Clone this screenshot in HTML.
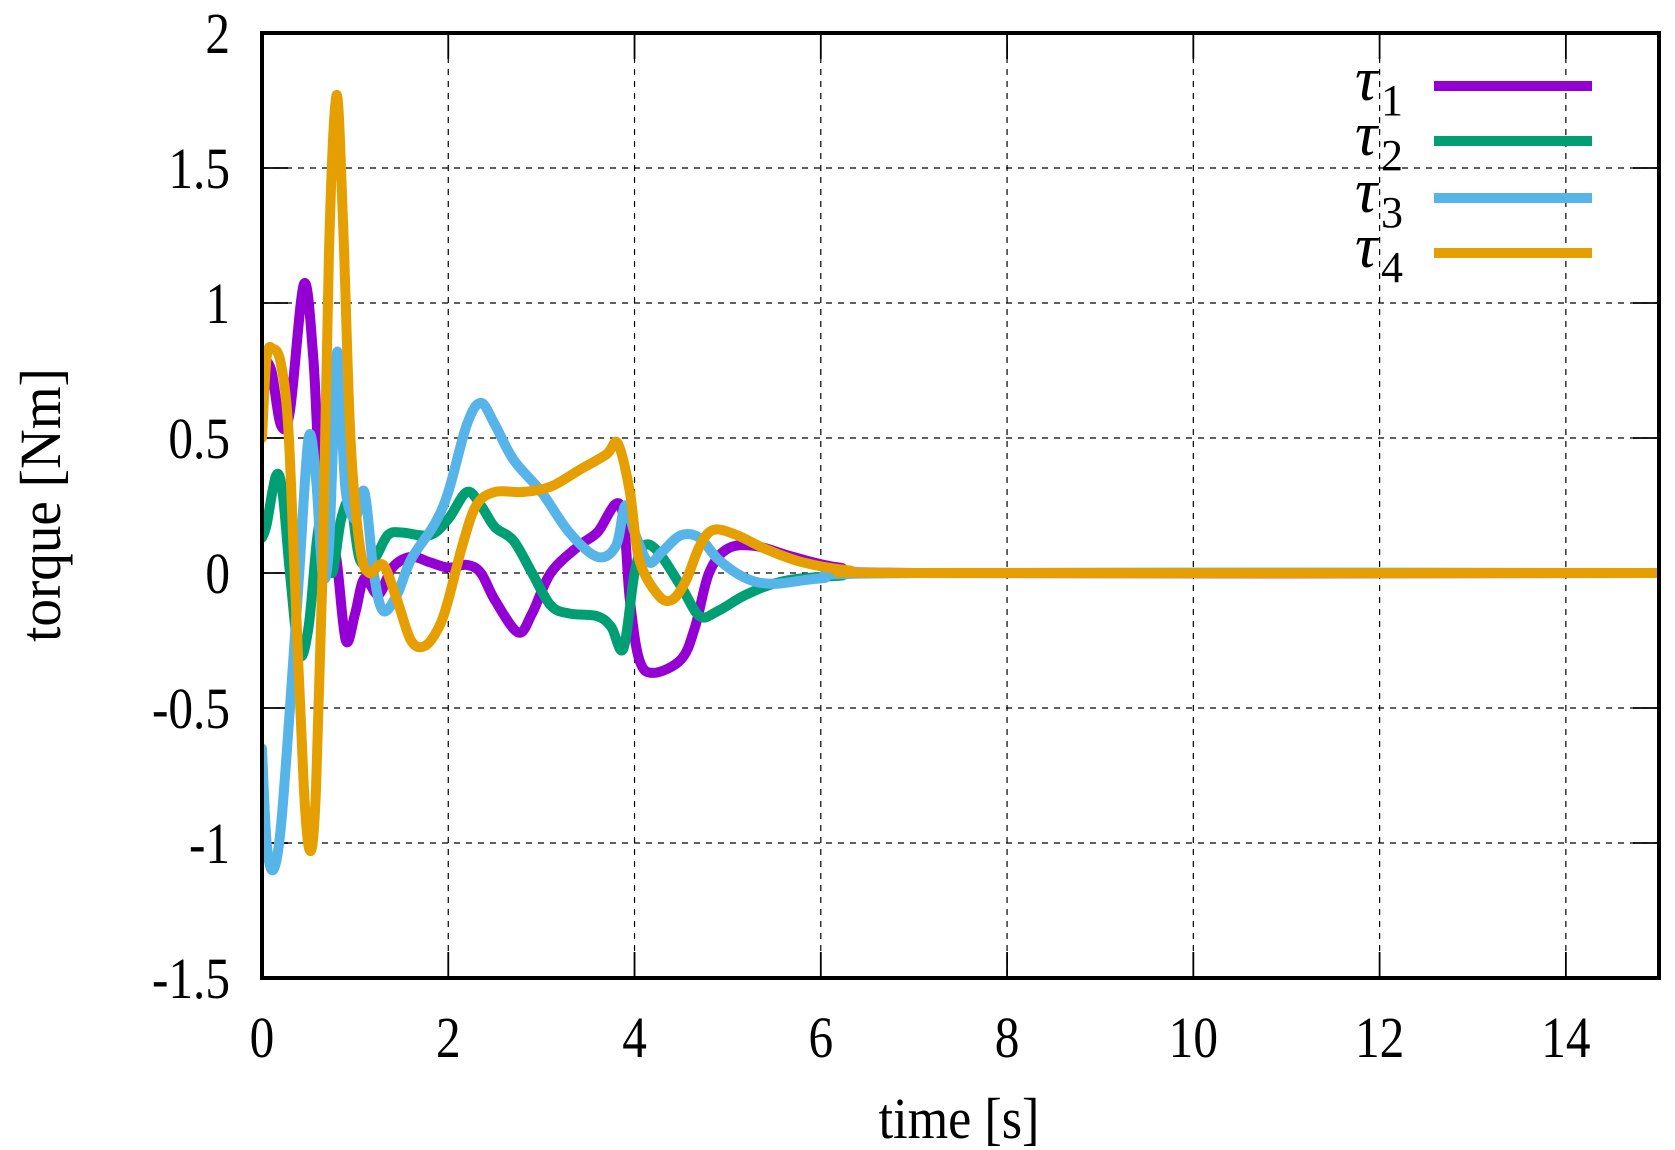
<!DOCTYPE html>
<html><head><meta charset="utf-8"><style>
html,body{margin:0;padding:0;background:#fff}
svg{display:block}
text{font-family:"Liberation Serif",serif;fill:#000}
</style></head><body>
<svg id="s" width="1675" height="1150" viewBox="0 0 1675 1150" xmlns="http://www.w3.org/2000/svg">
<defs><clipPath id="c"><rect x="262" y="33" width="1397" height="945"/></clipPath></defs>
<g id="grid" stroke="#000" stroke-width="1.2" stroke-dasharray="6,6"></g>
<g id="ticks" stroke="#000" stroke-width="1.8"></g>
<g id="labels" font-size="58"></g>
<g id="series" clip-path="url(#c)" fill="none" stroke-width="10" stroke-linejoin="round" stroke-linecap="round"></g>
<rect x="262" y="33" width="1397" height="945" fill="none" stroke="#000" stroke-width="4"/>
<text transform="translate(959,1138) scale(0.9,1)" font-size="58" text-anchor="middle">time [s]</text>
<text transform="translate(60,505) rotate(-90) scale(0.95,1)" font-size="58" text-anchor="middle">torque [Nm]</text>
<g id="legend" font-size="62"></g>
</svg>
<script>
const NS="http://www.w3.org/2000/svg";
const X=t=>262+93.133*t, Y=v=>573-270*v;
function el(p,tag,a,txt){const e=document.createElementNS(NS,tag);for(const k in a)e.setAttribute(k,a[k]);if(txt!==undefined)e.textContent=txt;document.getElementById(p).appendChild(e);return e;}
for(let t=2;t<=14;t+=2){el('grid','line',{x1:X(t),x2:X(t),y1:33,y2:978});}
for(let v=-1;v<=1.5;v+=0.5){el('grid','line',{x1:262,x2:1659,y1:Y(v),y2:Y(v)});}
for(let t=0;t<=15;t+=2){el('ticks','line',{x1:X(t),x2:X(t),y1:978,y2:952});el('ticks','line',{x1:X(t),x2:X(t),y1:33,y2:59});
 el('labels','text',{transform:`translate(${X(t)},1057) scale(0.85,1)`,'text-anchor':'middle'},String(t));}
for(let v=-1.5;v<=2.001;v+=0.5){el('ticks','line',{x1:262,x2:288,y1:Y(v),y2:Y(v)});el('ticks','line',{x1:1659,x2:1633,y1:Y(v),y2:Y(v)});
 el('labels','text',{transform:`translate(230,${Y(v)+20}) scale(0.85,1)`,'text-anchor':'end'},String(Math.round(v*10)/10));}
const S={
"#9400d3":[[0,0.8],[0.1,0.75],[0.2,0.55],[0.3,0.6],[0.45,1.07],[0.55,0.8],[0.62,0.35],[0.7,0.2],[0.8,0.05],[0.9,-0.25],[1.0,-0.15],[1.1,-0.02],[1.25,-0.08],[1.4,0.02],[1.6,0.06],[1.8,0.04],[2.0,0.02],[2.2,0.03],[2.35,0.0],[2.5,-0.1],[2.75,-0.22],[2.9,-0.15],[3.1,0.0],[3.4,0.1],[3.6,0.15],[3.85,0.25],[3.95,-0.1],[4.05,-0.32],[4.2,-0.37],[4.5,-0.32],[4.65,-0.2],[4.8,0.0],[5.0,0.09],[5.3,0.1],[5.7,0.06],[6.2,0.02],[7,0.0],[15,0]],
"#009e73":[[0,0.13],[0.05,0.18],[0.15,0.36],[0.22,0.3],[0.3,0.0],[0.4,-0.3],[0.5,-0.2],[0.6,0.15],[0.7,0.25],[0.75,0.0],[0.85,0.2],[0.95,0.26],[1.05,0.05],[1.2,0.05],[1.35,0.14],[1.5,0.15],[1.8,0.14],[2.0,0.2],[2.2,0.3],[2.35,0.25],[2.5,0.17],[2.7,0.12],[2.9,0.0],[3.1,-0.12],[3.3,-0.15],[3.6,-0.16],[3.75,-0.2],[3.88,-0.28],[4.0,0.0],[4.1,0.1],[4.25,0.08],[4.5,-0.05],[4.7,-0.16],[4.9,-0.14],[5.2,-0.08],[5.6,-0.03],[6.2,-0.01],[7,0],[15,0]],
"#56b4e9":[[0,-0.65],[0.05,-1.0],[0.12,-1.1],[0.2,-0.95],[0.3,-0.5],[0.4,0.0],[0.5,0.5],[0.58,0.35],[0.65,0.0],[0.72,0.1],[0.8,0.8],[0.85,0.6],[0.9,0.3],[1.0,0.2],[1.1,0.3],[1.2,0.0],[1.3,-0.14],[1.45,-0.08],[1.6,0.05],[1.85,0.18],[2.0,0.3],[2.2,0.55],[2.35,0.63],[2.5,0.55],[2.7,0.42],[3.0,0.3],[3.3,0.15],[3.6,0.06],[3.8,0.1],[3.9,0.25],[4.0,0.15],[4.15,0.04],[4.3,0.08],[4.5,0.14],[4.7,0.13],[4.9,0.05],[5.2,-0.02],[5.5,-0.04],[6,-0.02],[7,0],[15,0]],
"#e69f00":[[0,0.5],[0.05,0.8],[0.12,0.83],[0.2,0.78],[0.28,0.55],[0.35,0.0],[0.45,-0.8],[0.52,-1.03],[0.58,-0.8],[0.65,0.0],[0.72,1.2],[0.8,1.77],[0.87,1.3],[0.95,0.5],[1.05,0.1],[1.15,0.0],[1.3,0.03],[1.45,-0.1],[1.6,-0.25],[1.75,-0.27],[1.9,-0.2],[2.0,-0.1],[2.15,0.1],[2.3,0.25],[2.5,0.3],[2.8,0.3],[3.1,0.32],[3.4,0.38],[3.7,0.44],[3.82,0.48],[3.95,0.3],[4.05,0.05],[4.25,-0.08],[4.4,-0.1],[4.55,-0.03],[4.7,0.1],[4.85,0.16],[5.1,0.14],[5.4,0.09],[5.8,0.04],[6.3,0.01],[7,0],[15,0]]};
for(const col in S){const p=S[col].map(([t,v])=>[X(t),Y(v)]);let d="M"+p[0][0]+","+p[0][1];
 for(let i=0;i<p.length-1;i++){const p0=p[Math.max(0,i-1)],p1=p[i],p2=p[i+1],p3=p[Math.min(p.length-1,i+2)];
  d+=` C${p1[0]+(p2[0]-p0[0])/6},${p1[1]+(p2[1]-p0[1])/6} ${p2[0]-(p3[0]-p1[0])/6},${p2[1]-(p3[1]-p1[1])/6} ${p2[0]},${p2[1]}`;}
 el('series','path',{d:d,stroke:col});}
const L=[["#9400d3",86,"1"],["#009e73",141,"2"],["#56b4e9",198,"3"],["#e69f00",253,"4"]];
for(const [c,y,n] of L){el('legend','line',{x1:1434,x2:1592,y1:y,y2:y,stroke:c,'stroke-width':10});
 el('legend','text',{x:1355,y:y+14,'font-style':'italic'},"τ");
 el('legend','text',{x:1381,y:y+29,'font-size':44},n);}
</script>
</body></html>
